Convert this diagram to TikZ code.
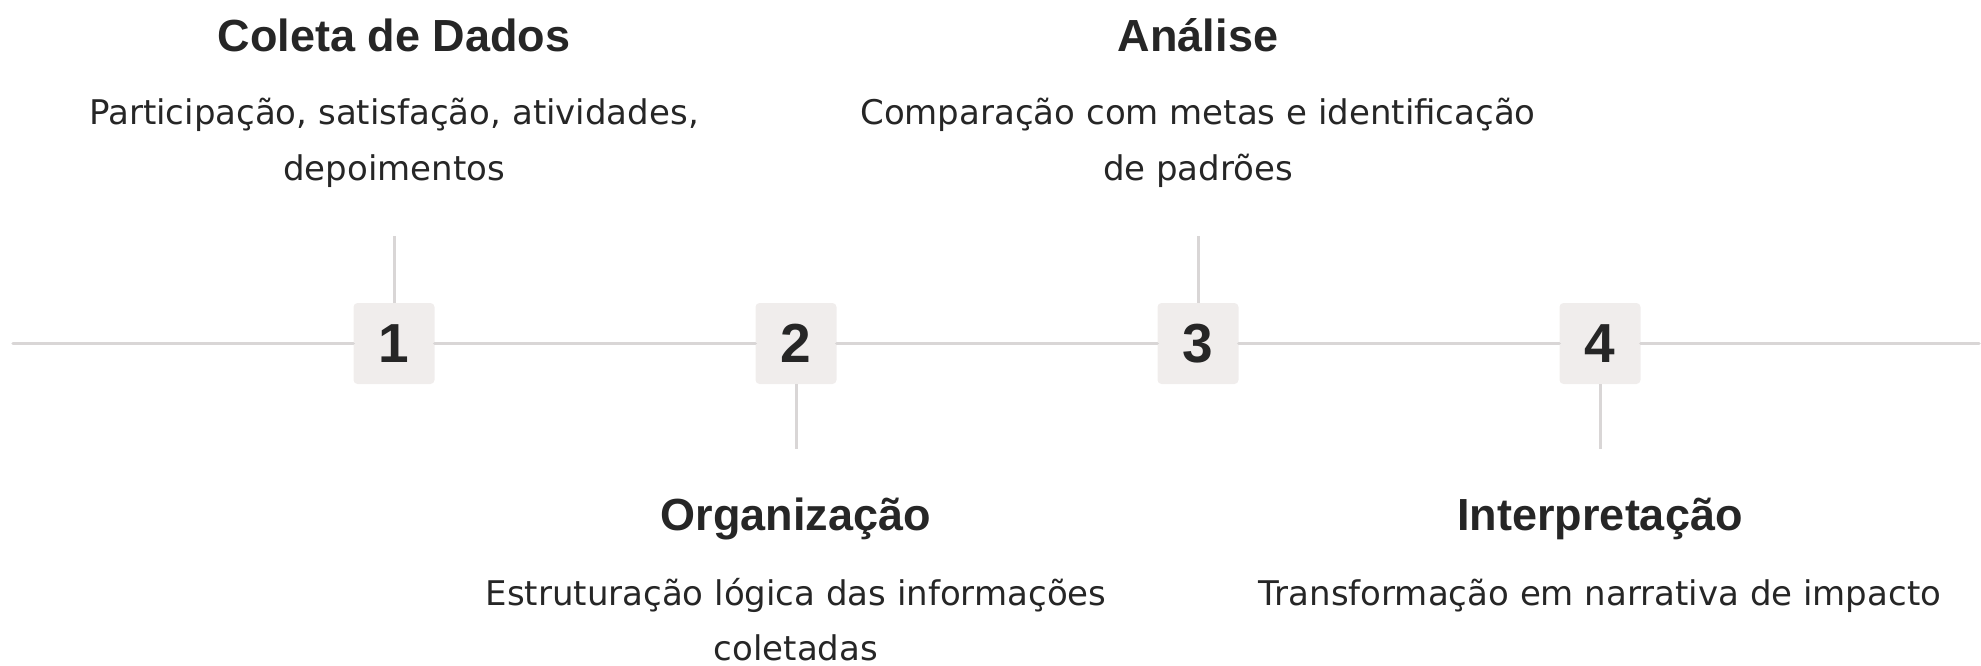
\documentclass[tikz,border=0pt]{standalone}
\usepackage{fontspec}
\setmainfont{Liberation Sans}
\newfontfamily\descfont{DejaVu Sans}
\definecolor{inkdark}{HTML}{262626}
\definecolor{railgray}{HTML}{D9D6D6}
\definecolor{boxfill}{HTML}{F0EDEC}
\tikzset{
    % timeline rail and stems
    rail/.style={draw=railgray, line width=3.5pt, line cap=round},
    stem/.style={draw=railgray, line width=3pt},
    % step boxes and texts
    stepnum/.style={rectangle, fill=boxfill, rounded corners=4pt, minimum width=81pt, minimum height=81pt, inner sep=0pt, text=inkdark, font=\fontsize{55}{60}\selectfont\bfseries},
    steptitle/.style={anchor=base, text=inkdark, inner sep=0pt, font=\fontsize{45}{54}\selectfont\bfseries},
    stepdesc/.style={anchor=base, text=inkdark, inner sep=0pt, align=center, font=\fontsize{34}{55}\selectfont\descfont}
}
\begin{document}
\begin{tikzpicture}[x=1pt, y=-1pt]
    \useasboundingbox (0,0) rectangle (1981,666);

    % Step boxes on the rail
    \node[stepnum] (s1) at (394, 343.5) {1};
    \node[stepnum] (s2) at (796, 343.5) {2};
    \node[stepnum] (s3) at (1198, 343.5) {3};
    \node[stepnum] (s4) at (1600, 343.5) {4};

    % Rail ends
    \coordinate (railL) at (13, 343.5);
    \coordinate (railR) at (1979, 343.5);
    \draw[rail] (railL) -- (s1) -- (s2) -- (s3) -- (s4) -- (railR);

    % Stems: up for 1 and 3, down for 2 and 4
    \coordinate (t1) at (394, 236);
    \coordinate (t2) at (796, 449);
    \coordinate (t3) at (1198, 236);
    \coordinate (t4) at (1600, 449);
    \draw[stem] (s1.north) -- (t1);
    \draw[stem] (s2.south) -- (t2);
    \draw[stem] (s3.north) -- (t3);
    \draw[stem] (s4.south) -- (t4);

    % Step 1 - above (base sits on the last line)
    \node[steptitle] (title1) at (394, 52) {Coleta de Dados};
    \node[stepdesc] (desc1) at (394, 180) {Participação, satisfação, atividades,\\depoimentos};

    % Step 2 - below
    \node[steptitle] (title2) at (796, 530) {Organização};
    \node[stepdesc] (desc2) at (796, 660) {Estruturação lógica das informações\\coletadas};

    % Step 3 - above
    \node[steptitle] (title3) at (1198, 52) {Análise};
    \node[stepdesc] (desc3) at (1198, 180) {Comparação com metas e identificação\\de padrões};

    % Step 4 - below
    \node[steptitle] (title4) at (1600, 530) {Interpretação};
    \node[stepdesc] (desc4) at (1600, 605) {Transformação em narrativa de impacto};
\end{tikzpicture}
\end{document}
